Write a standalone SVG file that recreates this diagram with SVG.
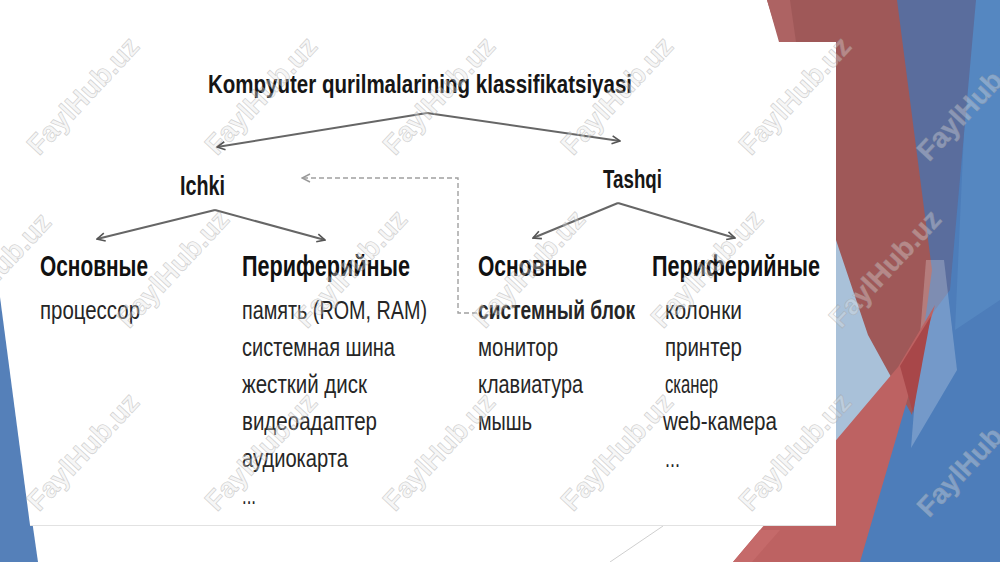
<svg xmlns="http://www.w3.org/2000/svg" width="1000" height="562" viewBox="0 0 1000 562">
<style>
.t{font-family:"Liberation Sans",Arial,sans-serif;fill:#161616}
.b{font-weight:bold}
.h{font-size:29px;font-weight:bold;fill:#111}
.i{font-size:25px;fill:#262626}
.ln{fill:none;stroke:#666;stroke-width:2}
.dash{fill:none;stroke:#a0a0a0;stroke-width:1.4;stroke-dasharray:5 3}
.wm{font-family:"Liberation Sans",Arial,sans-serif;font-size:28px;font-weight:bold;fill:#e6e6e6;fill-opacity:0.35;stroke:#9a9a9a;stroke-opacity:0.4;stroke-width:0.8}
</style>
<defs>
<marker id="ah" viewBox="0 0 10 10" refX="9" refY="5" markerWidth="10" markerHeight="10" markerUnits="userSpaceOnUse" orient="auto">
<path d="M1,1 L9,5 L1,9" fill="none" stroke="#555" stroke-width="1.6"/>
</marker>
<marker id="ahd" viewBox="0 0 10 10" refX="9" refY="5" markerWidth="10" markerHeight="10" markerUnits="userSpaceOnUse" orient="auto">
<path d="M1,1 L9,5 L1,9" fill="none" stroke="#999" stroke-width="1.4"/>
</marker>
</defs>
<rect x="0" y="0" width="1000" height="562" fill="#ffffff"/>
<g id="background">
<polygon points="0,297 38,562 0,562" fill="#5580b9"/>
<polygon points="840,0 1000,0 1000,562 840,562" fill="#4d7dba"/>
<polygon points="970,0 1000,0 1000,300 955,330" fill="#5587c1"/>
<polygon points="895,0 976,0 950,290 920,330" fill="#5a6d9d"/>
<polygon points="836,232 900,232 900,370 836,446" fill="#a9c1d9"/>
<polygon points="767,0 897,0 932,270 912,415 868,335 836,240 836,42 780,42" fill="#9f5858"/>
<polygon points="767,0 790,0 796,42 779,42" fill="#ad6363"/>
<polygon points="926,260 944,260 957,370 911,448" fill="#ffffff" fill-opacity="0.22"/>
<polygon points="733,562 898,367 935,305 860,562" fill="#bd6262"/>
<polygon points="900,366 931,316 913,413" fill="#a84749"/>
<polygon points="733,562 760,530 780,530 752,562" fill="#c56a6a"/>
<line x1="610" y1="562" x2="663" y2="526" stroke="#cfcfcf" stroke-width="1"/>
<rect x="0" y="42" width="836" height="483" fill="#ffffff"/>
<polygon points="0,297 30,525 0,525" fill="#5580b9"/>
<rect x="30" y="42" width="806" height="483" fill="#ffffff"/>
<line x1="30" y1="525.5" x2="836" y2="525.5" stroke="#e2e2e2" stroke-width="1"/>
</g>
<g id="connectors">
<path class="ln" d="M427,113 L217,147" marker-end="url(#ah)"/>
<path class="ln" d="M427,113 L620,141" marker-end="url(#ah)"/>
<path class="ln" d="M215,210 L97,239" marker-end="url(#ah)"/>
<path class="ln" d="M215,210 L325,240" marker-end="url(#ah)"/>
<path class="ln" d="M618,203 L533,238" marker-end="url(#ah)"/>
<path class="ln" d="M618,203 L735,238" marker-end="url(#ah)"/>
<path class="dash" d="M477,313 L458,313 L458,178 L302,178" marker-end="url(#ahd)"/>
</g>
<g id="title">
<text class="t b" x="208" y="93" font-size="26" textLength="424" lengthAdjust="spacingAndGlyphs">Kompyuter qurilmalarining klassifikatsiyasi</text>
</g>
<g id="ichki">
<text class="t b" x="180" y="195" font-size="27" textLength="45" lengthAdjust="spacingAndGlyphs">Ichki</text>
</g>
<g id="tashqi">
<text class="t b" x="603" y="188" font-size="25" textLength="59" lengthAdjust="spacingAndGlyphs">Tashqi</text>
</g>
<g id="ichki-osnovnye">
<text class="t h" x="40" y="276" textLength="108" lengthAdjust="spacingAndGlyphs">Основные</text>
<text class="t i" x="40" y="319" textLength="100" lengthAdjust="spacingAndGlyphs">процессор</text>
</g>
<g id="ichki-periferiynye">
<text class="t h" x="242" y="276" textLength="168" lengthAdjust="spacingAndGlyphs">Периферийные</text>
<text class="t i" x="242" y="319" textLength="185" lengthAdjust="spacingAndGlyphs">память (ROM, RAM)</text>
<text class="t i" x="242" y="356" textLength="153" lengthAdjust="spacingAndGlyphs">системная шина</text>
<text class="t i" x="242" y="393" textLength="125" lengthAdjust="spacingAndGlyphs">жесткий диск</text>
<text class="t i" x="242" y="430" textLength="135" lengthAdjust="spacingAndGlyphs">видеоадаптер</text>
<text class="t i" x="242" y="467" textLength="106" lengthAdjust="spacingAndGlyphs">аудиокарта</text>
<text class="t i" x="242" y="504" textLength="14" lengthAdjust="spacingAndGlyphs">...</text>
</g>
<g id="tashqi-osnovnye">
<text class="t h" x="478" y="276" textLength="109" lengthAdjust="spacingAndGlyphs">Основные</text>
<text class="t i b" x="478" y="319" fill="#111" textLength="157" lengthAdjust="spacingAndGlyphs">системный блок</text>
<text class="t i" x="478" y="356" textLength="80" lengthAdjust="spacingAndGlyphs">монитор</text>
<text class="t i" x="478" y="393" textLength="105" lengthAdjust="spacingAndGlyphs">клавиатура</text>
<text class="t i" x="478" y="430" textLength="54" lengthAdjust="spacingAndGlyphs">мышь</text>
</g>
<g id="tashqi-periferiynye">
<text class="t h" x="652" y="276" textLength="168" lengthAdjust="spacingAndGlyphs">Периферийные</text>
<text class="t i" x="665" y="319" textLength="77" lengthAdjust="spacingAndGlyphs">колонки</text>
<text class="t i" x="665" y="356" textLength="77" lengthAdjust="spacingAndGlyphs">принтер</text>
<text class="t i" x="665" y="393" textLength="53" lengthAdjust="spacingAndGlyphs">сканер</text>
<text class="t i" x="663" y="430" textLength="114" lengthAdjust="spacingAndGlyphs">web-камера</text>
<text class="t i" x="665" y="467" textLength="15" lengthAdjust="spacingAndGlyphs">...</text>
</g>
<g id="watermarks" text-anchor="middle">
<text class="wm" transform="translate(90,102) rotate(-47)">FaylHub.uz</text>
<text class="wm" transform="translate(268,102) rotate(-47)">FaylHub.uz</text>
<text class="wm" transform="translate(446,102) rotate(-47)">FaylHub.uz</text>
<text class="wm" transform="translate(624,102) rotate(-47)">FaylHub.uz</text>
<text class="wm" transform="translate(802,102) rotate(-47)">FaylHub.uz</text>
<text class="wm" transform="translate(980,108) rotate(-47)">FaylHub.uz</text>
<text class="wm" transform="translate(2,278) rotate(-47)">FaylHub.uz</text>
<text class="wm" transform="translate(180,275) rotate(-47)">FaylHub.uz</text>
<text class="wm" transform="translate(358,275) rotate(-47)">FaylHub.uz</text>
<text class="wm" transform="translate(536,275) rotate(-47)">FaylHub.uz</text>
<text class="wm" transform="translate(714,275) rotate(-47)">FaylHub.uz</text>
<text class="wm" transform="translate(892,275) rotate(-47)">FaylHub.uz</text>
<text class="wm" transform="translate(90,458) rotate(-47)">FaylHub.uz</text>
<text class="wm" transform="translate(268,458) rotate(-47)">FaylHub.uz</text>
<text class="wm" transform="translate(446,458) rotate(-47)">FaylHub.uz</text>
<text class="wm" transform="translate(624,458) rotate(-47)">FaylHub.uz</text>
<text class="wm" transform="translate(802,458) rotate(-47)">FaylHub.uz</text>
<text class="wm" transform="translate(980,464) rotate(-47)">FaylHub.uz</text>
</g>
</svg>
